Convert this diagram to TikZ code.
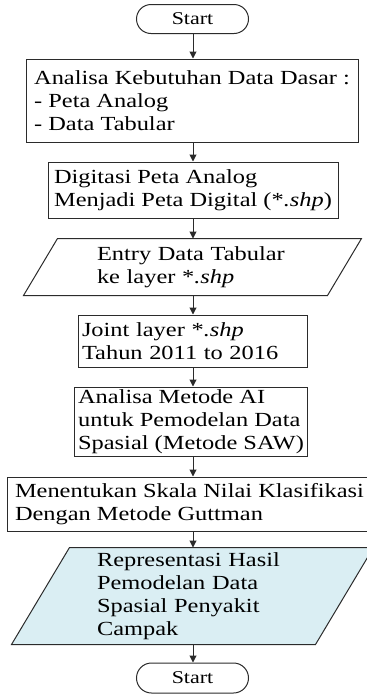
\documentclass[tikz,border=0pt]{standalone}
\usepackage{fontspec}
\setmainfont{Liberation Serif}[FakeStretch=1.22]
\usetikzlibrary{positioning}
\usetikzlibrary{arrows.meta,shapes.misc,backgrounds}
\definecolor{birumuda}{HTML}{DAEEF3}
\definecolor{garis}{HTML}{2B2B2B}
\tikzstyle{every node}=[font=\fontsize{20}{23}\selectfont]
\tikzstyle{every path}=[line width=1pt,line cap=round,line join=miter]
\tikzstyle{proses}=[draw=garis, rectangle, align=left, inner xsep=4pt, inner ysep=0pt]
\tikzstyle{terminal}=[draw=garis, rounded rectangle, minimum width=112pt, minimum height=29pt, inner sep=0pt, font=\fontsize{18}{20}\selectfont]
\tikzstyle{masukan}=[rectangle, align=left, text width=191pt, minimum width=303pt, inner sep=0pt]
\tikzstyle{panah}=[draw=garis,-{Triangle[length=7pt,width=7pt]}]

\begin{document}
\begin{tikzpicture}[x=1pt,y=-1pt]
\useasboundingbox (0,0) rectangle (367,694);
%langkah
\node[terminal] (mulai) at (192.5,19) {Start};
\node[proses,minimum width=332pt,minimum height=83pt] (kebutuhan) at (192,100.5)
  {Analisa Kebutuhan Data Dasar :\\- Peta Analog\\- Data Tabular};
\node[proses,minimum width=290pt,minimum height=56pt] (digitasi) at (193,190)
  {Digitasi Peta Analog\\Menjadi Peta Digital (*\textit{.shp})};
\node[masukan,minimum height=56pt] (entry) at (192.5,267)
  {Entry Data Tabular\\ke layer *\textit{.shp}};
\node[proses,minimum width=229pt,minimum height=52pt,text width=221pt] (joint) at (192.5,341)
  {Joint layer *\textit{.shp}\\Tahun 2011 to 2016};
\node[proses,minimum width=226pt,minimum height=69pt] (metode) at (191,421.5)
  {Analisa Metode AI\\untuk Pemodelan Data\\Spasial (Metode SAW)};
\node[proses,minimum width=365pt,minimum height=54pt] (skala) at (189.5,504)
  {Menentukan Skala Nilai Klasifikasi\\Dengan Metode Guttman};
\node[masukan,minimum height=96pt] (hasil) at (192.5,596)
  {Representasi Hasil\\Pemodelan Data\\Spasial Penyakit\\Campak};
\node[terminal,minimum height=30pt] (selesai) at (192.5,678) {Start};

%jajargenjang
\draw[draw=garis] ([xshift=17pt]entry.north west) -- ([xshift=17pt]entry.north east)
  -- ([xshift=-17pt]entry.south east) -- ([xshift=-17pt]entry.south west) -- cycle;
\begin{pgfonlayer}{background}
\filldraw[fill=birumuda,draw=garis] ([xshift=29pt]hasil.north west) -- ([xshift=29pt]hasil.north east)
  -- ([xshift=-29pt]hasil.south east) -- ([xshift=-29pt]hasil.south west) -- cycle;
\end{pgfonlayer}

%panah
\foreach \a/\b in {mulai/kebutuhan,kebutuhan/digitasi,digitasi/entry,entry/joint,
  joint/metode,metode/skala,skala/hasil,hasil/selesai}
  \draw[panah] (193,0 |- \a.south) -- (193,0 |- \b.north);
\end{tikzpicture}
\end{document}
